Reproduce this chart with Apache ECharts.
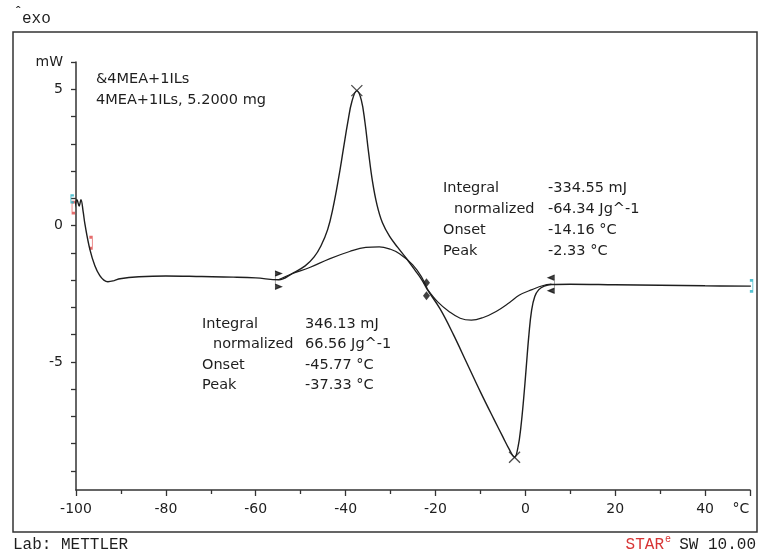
<!DOCTYPE html>
<html>
<head>
    <title>DSC</title>
    <meta charset="utf-8">
    <style>
        html, body { margin: 0; padding: 0; background: #fff; }
        #main { width: 769px; height: 558px; }
    </style>
</head>
<body>
    <div id="main"></div>
    <script type="text/javascript" src="https://cdn.jsdelivr.net/npm/echarts@6/dist/echarts.min.js"></script>
    <script type="text/javascript">
    // measured curve, [temperature °C, heat flow mW]
    var heatFlow = [
        [-100.7, 0.45], [-100.2, 0.75], [-99.8, 0.95], [-99.3, 0.72], [-98.9, 0.95], [-98.4, 0.5],
        [-98.0, 0.04], [-96.9, -0.88], [-95.8, -1.47], [-94.7, -1.84], [-93.8, -2.0], [-92.9, -2.06],
        [-91.5, -2.02], [-90.2, -1.95], [-86, -1.88], [-80, -1.85], [-72, -1.87], [-65, -1.89],
        [-60, -1.92], [-54.9, -1.99], [-51.8, -1.75], [-49, -1.48], [-47, -1.15], [-45.5, -0.75],
        [-44, -0.15], [-42.8, 0.65], [-41.6, 1.7], [-40.5, 2.8], [-39.5, 3.8], [-38.6, 4.55],
        [-37.5, 4.95], [-36.5, 4.6], [-35.7, 3.8], [-34.9, 2.7], [-34.0, 1.6], [-33.0, 0.75],
        [-31.8, 0.1], [-30.2, -0.4], [-28.4, -0.8], [-26.5, -1.2], [-24.5, -1.65], [-23, -2.0],
        [-21.8, -2.35], [-19, -3.05], [-16, -4.0], [-13, -5.05], [-10, -6.1], [-7, -7.1],
        [-5, -7.75], [-3.6, -8.2], [-2.4, -8.5], [-1.6, -8.1], [-1.0, -7.4], [-0.4, -6.4],
        [0.2, -5.2], [0.8, -4.0], [1.4, -3.1], [2.1, -2.6], [3.0, -2.35], [4.2, -2.22],
        [5.8, -2.16], [10, -2.15], [20, -2.17], [30, -2.19], [40, -2.21], [50.2, -2.22]
    ];
    // integration baselines
    var baselineExo = [
        [-54.9, -1.99], [-51.8, -1.76], [-48.0, -1.54], [-43.6, -1.22], [-39.1, -0.95], [-35.5, -0.8],
        [-32.5, -0.78], [-30, -0.87], [-28, -1.03], [-25.1, -1.43], [-23.1, -1.88], [-21.8, -2.33]
    ];
    var baselineEndo = [
        [-21.8, -2.33], [-19.5, -2.8], [-17, -3.15], [-14.5, -3.4], [-12, -3.47], [-9.5, -3.38],
        [-6.5, -3.15], [-3.5, -2.82], [-1.3, -2.55], [1.5, -2.35], [4, -2.2], [5.8, -2.15]
    ];
    // evaluation marks
    var peakMarks = [[-37.5, 4.95], [-2.4, -8.5]];
    var startMarks = [[-55.0, -2.0]];
    var midMarks = [[-22.0, -2.1], [-22.0, -2.57]];
    var endMarks = [[5.8, -2.15]];
    var redOpen = [[-100.55, 0.66]];
    var redClose = [[-96.7, -0.63]];
    var cyanOpen = [[-100.8, 0.98]];
    var cyanClose = [[50.3, -2.21]];

    var xMajorTicks = [-100, -80, -60, -40, -20, 0, 20, 40, 50];
    var xMinorTicks = [-90, -70, -50, -30, -10, 10, 30];
    var yTicks = [-9, -8, -7, -6, -5, -4, -3, -2, -1, 0, 1, 2, 3, 4, 5, 6];
    var yLabels = [-5, 0, 5, 6];

    var sampleLines = ['&4MEA+1ILs', '4MEA+1ILs, 5.2000 mg'];
    var resultNames = ['Integral', 'normalized', 'Onset', 'Peak'];
    var exoResults = ['346.13 mJ', '66.56 Jg^-1', '-45.77 °C', '-37.33 °C'];
    var endoResults = ['-334.55 mJ', '-64.34 Jg^-1', '-14.16 °C', '-2.33 °C'];

    var ink = '#1e1e1e';
    var sans = '14.5px "DejaVu Sans"';
    var mono = '"Liberation Mono"';

    var graphic = [
        { type: 'rect', shape: { x: 13, y: 32, width: 744, height: 500 },
          style: { fill: 'none', stroke: '#333', lineWidth: 1.5 } },
        { type: 'text', x: 14, y: 13, style: { text: 'ˆ', font: '14px ' + mono, fill: ink, textVerticalAlign: 'middle' } },
        { type: 'text', x: 22, y: 19, style: { text: 'exo', font: '16px ' + mono, fill: ink, textVerticalAlign: 'middle' } },
        { type: 'text', x: 13, y: 545, style: { text: 'Lab: METTLER', font: '16px ' + mono, fill: ink, textVerticalAlign: 'middle' } },
        { type: 'text', x: 664, y: 545, style: { text: 'STAR', font: '16px ' + mono, fill: '#d83535', textAlign: 'right', textVerticalAlign: 'middle' } },
        { type: 'text', x: 665, y: 539, style: { text: 'e', font: '10px ' + mono, fill: '#d83535', textVerticalAlign: 'middle' } },
        { type: 'text', x: 756, y: 545, style: { text: 'SW 10.00', font: '16px ' + mono, fill: ink, textAlign: 'right', textVerticalAlign: 'middle' } }
    ];
    sampleLines.forEach(function (t, i) {
        graphic.push({ type: 'text', x: 96, y: 79 + i * 21, style: { text: t, font: sans, fill: ink, textVerticalAlign: 'middle' } });
    });
    resultNames.forEach(function (t, i) {
        var dx = i === 1 ? 11 : 0;
        graphic.push({ type: 'text', x: 443 + dx, y: 188 + i * 21, style: { text: t, font: sans, fill: ink, textVerticalAlign: 'middle' } });
        graphic.push({ type: 'text', x: 548, y: 188 + i * 21, style: { text: endoResults[i], font: sans, fill: ink, textVerticalAlign: 'middle' } });
        graphic.push({ type: 'text', x: 202 + dx, y: 324 + i * 20.5, style: { text: t, font: sans, fill: ink, textVerticalAlign: 'middle' } });
        graphic.push({ type: 'text', x: 305, y: 324 + i * 20.5, style: { text: exoResults[i], font: sans, fill: ink, textVerticalAlign: 'middle' } });
    });

    function lineSeries(data, w) {
        return {
            type: 'line', data: data, showSymbol: false, smooth: 0.4,
            clip: false, silent: true, animation: false,
            lineStyle: { color: ink, width: w }
        };
    }
    function markSeries(data, symbol, size, style) {
        return {
            type: 'scatter', data: data, symbol: symbol, symbolSize: size,
            clip: false, silent: true, animation: false, itemStyle: style
        };
    }

    var myChart = echarts.init(document.getElementById('main'));
    var option = {
        animation: false,
        grid: { left: 76, right: 19, top: 62, bottom: 68 },
        xAxis: [
            {
                type: 'value', min: -100, max: 50, position: 'bottom',
                axisLine: { show: true, onZero: false, lineStyle: { color: '#333', width: 1.5 } },
                axisTick: { show: true, customValues: xMajorTicks, length: 6, lineStyle: { color: '#333', width: 1.3 } },
                axisLabel: {
                    customValues: xMajorTicks, margin: 12, color: ink,
                    fontFamily: 'DejaVu Sans', fontSize: 14,
                    formatter: function (v) { return v === 50 ? '{u|°C}' : String(v); },
                    rich: { u: { fontFamily: 'DejaVu Sans', fontSize: 14, color: ink, padding: [0, 18, 0, 0] } }
                },
                splitLine: { show: false }
            },
            {
                type: 'value', min: -100, max: 50, position: 'bottom',
                axisLine: { show: false, onZero: false },
                axisTick: { show: true, customValues: xMinorTicks, length: 4, lineStyle: { color: '#333', width: 1.3 } },
                axisLabel: { show: false },
                splitLine: { show: false }
            }
        ],
        yAxis: {
            type: 'value', min: -9.7, max: 6,
            axisLine: { show: true, onZero: false, lineStyle: { color: '#333', width: 1.5 } },
            axisTick: { show: true, customValues: yTicks, length: 5, lineStyle: { color: '#333', width: 1.3 } },
            axisLabel: {
                customValues: yLabels, margin: 13, color: ink,
                fontFamily: 'DejaVu Sans', fontSize: 14,
                formatter: function (v) { return v === 6 ? 'mW' : String(v); }
            },
            splitLine: { show: false }
        },
        graphic: graphic,
        series: [
            lineSeries(heatFlow, 1.4),
            lineSeries(baselineExo, 1.2),
            lineSeries(baselineEndo, 1.2),
            markSeries(peakMarks, 'path://M0,0L10,10M10,0L0,10', 11, { color: 'none', borderColor: ink, borderWidth: 1.3 }),
            markSeries(startMarks, 'path://M0,0L0,22M0,0L6,3L0,6ZM0,16L6,19L0,22Z', [6, 18], { color: '#111', borderColor: '#111', borderWidth: 0.8 }),
            markSeries(endMarks, 'path://M6,0L6,22M6,0L0,3L6,6ZM6,16L0,19L6,22Z', [6, 18], { color: '#111', borderColor: '#111', borderWidth: 0.8 }),
            markSeries(midMarks, 'diamond', [7, 9], { color: '#111' }),
            markSeries(redOpen, 'path://M4,0L0,0L0,12L4,12', [3, 11], { color: 'none', borderColor: '#e04848', borderWidth: 1.5 }),
            markSeries(redClose, 'path://M0,0L4,0L4,12L0,12', [3, 11], { color: 'none', borderColor: '#e04848', borderWidth: 1.5 }),
            markSeries(cyanOpen, 'path://M4,0L0,0L0,12L4,12', [3, 7], { color: 'none', borderColor: '#2ab3c6', borderWidth: 1.5 }),
            markSeries(cyanClose, 'path://M0,0L4,0L4,12L0,12', [3, 11], { color: 'none', borderColor: '#2ab3c6', borderWidth: 1.5 })
        ]
    };
    myChart.setOption(option);
    </script>
</body>
</html>
